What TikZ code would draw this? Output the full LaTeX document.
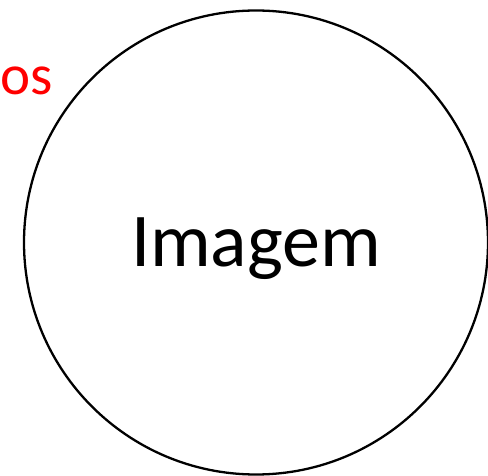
\documentclass[tikz,border=0pt]{standalone}
\usepackage{fontspec}
\setmainfont{Carlito}
\begin{document}
\begin{tikzpicture}[x=1pt,y=-1pt,
  bigcirc/.style={draw=black,line width=2.3pt,circle,minimum size=464pt,inner sep=0pt},
  lbl/.style={inner sep=0pt,font=\fontsize{76}{82}\selectfont},
  redlbl/.style={inner sep=0pt,text=red,font=\fontsize{57}{62}\selectfont,anchor=base west}]
\useasboundingbox (0,0) rectangle (488,476);
\node[bigcirc] (c) at (256,242.5) {};
\node[lbl,anchor=base] (t) at (256,267) {Imagem};
\node[redlbl] (os) at (0,95) {os};
\end{tikzpicture}
\end{document}
